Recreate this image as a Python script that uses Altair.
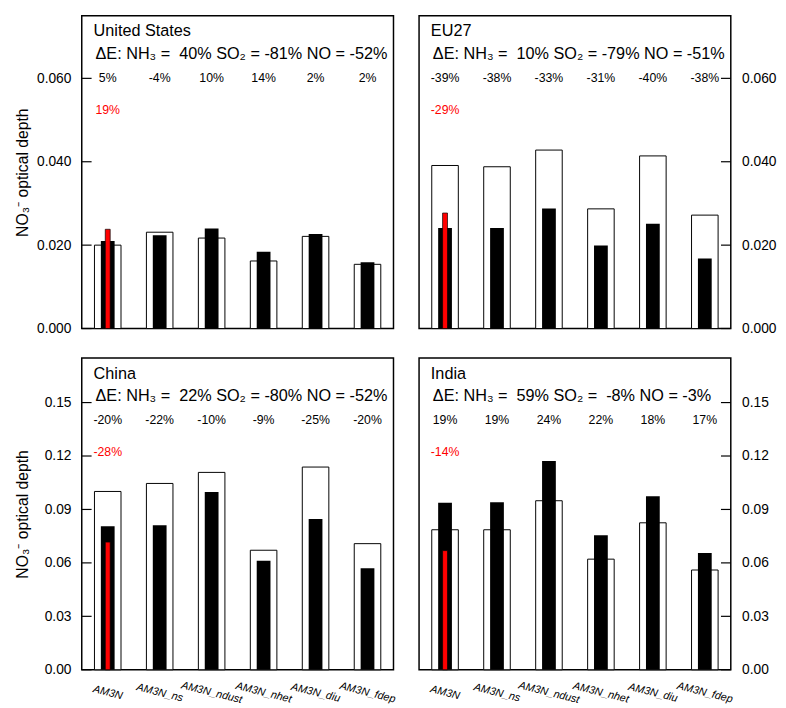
import altair as alt
import pandas as pd

FONT = "Liberation Sans"
NB = "\u00a0"

models = ["AM3N", "AM3N_ns", "AM3N_ndust", "AM3N_nhet", "AM3N_diu", "AM3N_fdep"]

us_base = [0.0200, 0.0231, 0.0217, 0.0162, 0.0221, 0.0154]
us_new = [0.0210, 0.0224, 0.0240, 0.0184, 0.0227, 0.0159]
us_pct = ["5%", "-4%", "10%", "14%", "2%", "2%"]
us_red = 0.0238
us_red_pct = "19%"
us_de = "ΔE: NH₃ =" + NB + " 40% SO₂ = -81% NO = -52%"

eu_base = [0.0391, 0.0388, 0.0428, 0.0287, 0.0414, 0.0272]
eu_new = [0.0241, 0.0241, 0.0288, 0.0199, 0.0251, 0.0168]
eu_pct = ["-39%", "-38%", "-33%", "-31%", "-40%", "-38%"]
eu_red = 0.0277
eu_red_pct = "-29%"
eu_de = "ΔE: NH₃ =" + NB + " 10% SO₂ = -79% NO = -51%"

cn_base = [0.1001, 0.1046, 0.1108, 0.0671, 0.1138, 0.0708]
cn_new = [0.0805, 0.0811, 0.0998, 0.0612, 0.0847, 0.0570]
cn_pct = ["-20%", "-22%", "-10%", "-9%", "-25%", "-20%"]
cn_red = 0.0717
cn_red_pct = "-28%"
cn_de = "ΔE: NH₃ =" + NB + " 22% SO₂ = -80% NO = -52%"

in_base = [0.0786, 0.0786, 0.0949, 0.0621, 0.0825, 0.0560]
in_new = [0.0938, 0.0941, 0.1172, 0.0755, 0.0974, 0.0656]
in_pct = ["19%", "19%", "24%", "22%", "18%", "17%"]
in_red = 0.0669
in_red_pct = "-14%"
in_de = "ΔE: NH₃ =" + NB + " 59% SO₂ =" + NB + " -8% NO = -3%"

top_ticks = [0.0, 0.02, 0.04, 0.06]
bot_ticks = [0.0, 0.03, 0.06, 0.09, 0.12, 0.15]
top_max = 0.075
bot_max = 0.175
ytitle = "NO₃⁻ optical depth"

W = 317


def panel(name, base, new, pct, red, red_pct, de, ymax, yvals, yfmt, left, bottom, height):
    df = pd.DataFrame({"model": models, "base": base, "new": new, "pct": pct})
    rdf = pd.DataFrame({"model": [models[0]], "red": [red], "lab": [red_pct]})
    tdf = pd.DataFrame({"v": yvals})

    xscale = alt.Scale(domain=models, paddingInner=0, paddingOuter=0)
    if bottom:
        xaxis = alt.Axis(labelAngle=14, labelAlign="center", labelBaseline="middle",
                         labelPadding=23, ticks=False, tickSize=0, domain=False,
                         labelFont=FONT, labelFontStyle="italic", labelFontSize=11,
                         labelColor="black", title=None, labelOverlap=False)
    else:
        xaxis = None
    yscale = alt.Scale(domain=[0, ymax], nice=False, zero=True)
    yaxis = alt.Axis(values=yvals, format=yfmt, orient="left" if left else "right",
                     ticks=False, tickSize=0, domain=False, grid=False,
                     labelPadding=11 if left else 11, labelFont=FONT, labelFontSize=14,
                     labelColor="black", minExtent=47, maxExtent=47,
                     titleFont=FONT, titleFontSize=16, titleFontWeight="normal",
                     titleColor="black", titlePadding=5)
    yt = ytitle if left else None

    def X():
        return alt.X("model:N", sort=models, scale=xscale, axis=xaxis, title=None)

    white = alt.Chart(df).mark_bar(size=27, fill="white", stroke="black", strokeWidth=1).encode(
        x=X(), y=alt.Y("base:Q", scale=yscale, axis=yaxis, title=yt))
    black = alt.Chart(df).mark_bar(size=14, color="black").encode(
        x=X(), y=alt.Y("new:Q", scale=yscale, axis=yaxis, title=yt))
    redbar = alt.Chart(rdf).mark_bar(size=5, fill="#ff0000", stroke="black", strokeWidth=0.7).encode(
        x=X(), y=alt.Y("red:Q", scale=yscale, axis=yaxis, title=yt))
    pct_t = alt.Chart(df).mark_text(font=FONT, fontSize=12.5, baseline="middle", color="black").encode(
        x=X(), y=alt.value(63), text="pct:N")
    red_t = alt.Chart(rdf).mark_text(font=FONT, fontSize=12.5, baseline="middle", color="#ff0000").encode(
        x=X(), y=alt.value(96), text="lab:N")
    title_t = alt.Chart(pd.DataFrame({"t": [name]})).mark_text(
        font=FONT, fontSize=16.5, align="left", baseline="middle", color="black").encode(
        x=alt.value(12), y=alt.value(16), text="t:N")
    de_t = alt.Chart(pd.DataFrame({"t": [de]})).mark_text(
        font=FONT, fontSize=16.5, align="left", baseline="middle", color="black").encode(
        x=alt.value(14), y=alt.value(39), text="t:N")
    if left:
        tx, tx2 = 0, 10
    else:
        tx, tx2 = W - 10, W
    ticks = alt.Chart(tdf).mark_rule(color="black", strokeWidth=1.2).encode(
        y=alt.Y("v:Q", scale=yscale, axis=yaxis, title=yt),
        x=alt.value(tx), x2=alt.value(tx2))
    return alt.layer(white, black, redbar, ticks, pct_t, red_t, title_t, de_t).properties(
        width=W, height=height)


tl = panel("United States", us_base, us_new, us_pct, us_red, us_red_pct, us_de,
           top_max, top_ticks, ".3f", True, False, 318)
tr = panel("EU27", eu_base, eu_new, eu_pct, eu_red, eu_red_pct, eu_de,
           top_max, top_ticks, ".3f", False, False, 318)
bl = panel("China", cn_base, cn_new, cn_pct, cn_red, cn_red_pct, cn_de,
           bot_max, bot_ticks, ".2f", True, True, 317)
br = panel("India", in_base, in_new, in_pct, in_red, in_red_pct, in_de,
           bot_max, bot_ticks, ".2f", False, True, 317)

chart = alt.concat(tl, tr, bl, br, columns=2, spacing={"row": 21, "column": 21}).properties(
    padding={"left": 6, "top": 1, "right": 0, "bottom": 0},
    background="white",
).configure_view(stroke="black", strokeWidth=1.5)

chart.save("out.html", embed_options={"renderer": "svg", "actions": False})
